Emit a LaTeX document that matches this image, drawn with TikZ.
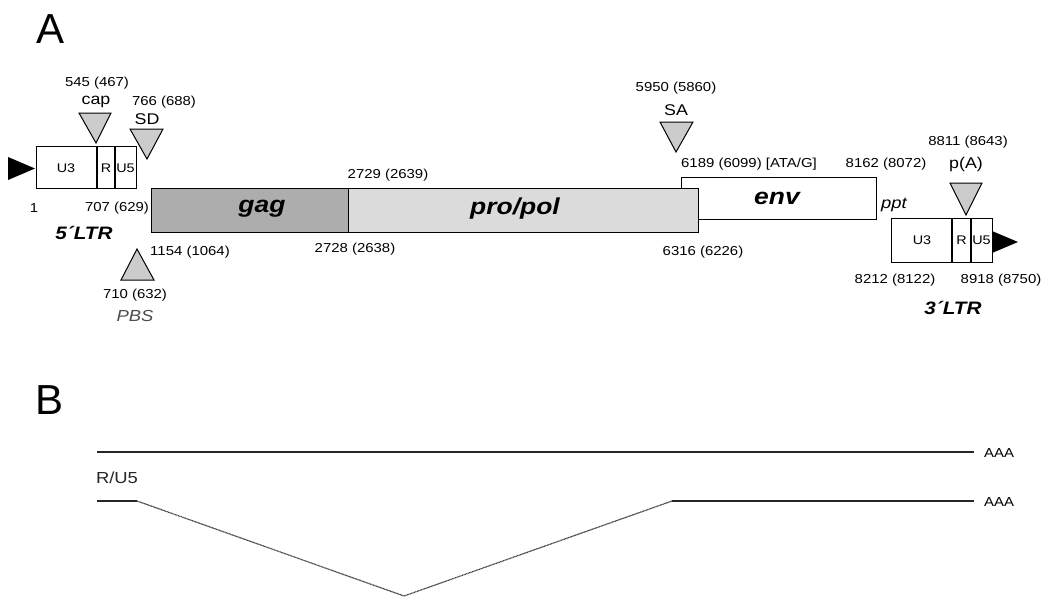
\documentclass[tikz,border=0pt]{standalone}
\usepackage{fontspec}
\setmainfont[FakeStretch=1.15]{Liberation Sans}
\newfontfamily\plainsans{Liberation Sans}
\begin{document}
\begin{tikzpicture}[x=1pt,y=-1pt,
  box/.style={draw=black,line width=1.1pt,inner sep=0pt,anchor=north west},
  num/.style={font=\fontsize{13}{15}\selectfont,inner sep=0pt},
  site/.style={font=\fontsize{15.5}{18}\selectfont,inner sep=0pt},
  gene/.style={font=\fontsize{23}{26}\selectfont\bfseries\itshape,inner sep=0pt},
  seg/.style={font=\fontsize{12.5}{14}\selectfont,inner sep=0pt},
  ltr/.style={font=\fontsize{18}{20}\selectfont\bfseries\itshape,inner sep=0pt},
  tri/.style={draw=black,line width=1pt,fill=gray!40,line join=miter},
  rna/.style={line width=1.5pt,black!85},
  splice/.style={line width=1.2pt,black!75,dash pattern=on 1pt off 0.5pt},
  panel/.style={font=\plainsans\fontsize{42}{44}\selectfont,inner sep=0pt}]
\useasboundingbox (0,0) rectangle (1044,597);
% panel letters
\node[panel] (A) at (51,29) {A};
\node[panel] (B) at (50,400) {B};
% ---------- 5' LTR ----------
\node[box,minimum width=100pt,minimum height=42pt] (ltr5) at (36,146) {};
\draw[line width=1.1pt] (97,146) -- (97,188) (115,146) -- (115,188);
\node[seg] (u3a) at (66,168) {U3};
\node[seg] (ra) at (106,168) {R};
\node[seg] (u5a) at (125.5,168) {U5};
\fill[black] (8,157) -- (35,168.5) -- (8,180) -- cycle;
\node[num] (n1) at (34,208) {1};
\node[num] (n707) at (117,208) {707 (629)};
\node[ltr] (l5) at (84,233) {5´LTR};
% ---------- env (behind) ----------
\node[box,fill=white,minimum width=195pt,minimum height=42pt] (env) at (681,177) {};
\node[gene] (envt) at (777,198) {env};
% ---------- gag / pro/pol ----------
\node[box,fill=gray!64,minimum width=197pt,minimum height=44pt] (gag) at (151,188) {};
\node[gene] (gagt) at (262,209) {gag};
\node[box,fill=gray!28,minimum width=350pt,minimum height=44pt] (pol) at (348,188) {};
\node[gene] (polt) at (515,209) {pro/pol};
% ---------- 3' LTR ----------
\node[box,minimum width=101pt,minimum height=44pt] (ltr3) at (891,218) {};
\draw[line width=1.1pt] (952,218) -- (952,262) (971,218) -- (971,262);
\node[seg] (u3b) at (922,240) {U3};
\node[seg] (rb) at (961.5,240) {R};
\node[seg] (u5b) at (981.5,240) {U5};
\fill[black] (992,231) -- (1018,242) -- (992,253) -- cycle;
% ---------- sites ----------
\draw[tri] (79,113) -- (111,113) -- (96,143) -- cycle;
\node[site] (cap) at (96,102) {cap};
\node[num] (n545) at (97,83) {545 (467)};
\draw[tri] (130,129) -- (163,129) -- (147,159) -- cycle;
\node[site] (sd) at (147,119) {SD};
\node[num] (n766) at (164,102) {766 (688)};
\draw[tri] (137,249) -- (154,280) -- (121,280) -- cycle;
\node[num] (n1154) at (190,252) {1154 (1064)};
\node[num] (n710) at (135,295) {710 (632)};
\node[font=\fontsize{16}{18}\selectfont\itshape,text=black!70,inner sep=0pt] (pbs) at (135,316) {PBS};
\draw[tri] (660,122) -- (693,122) -- (676,152) -- cycle;
\node[site] (sa) at (676,110) {SA};
\node[num] (n5950) at (676,88) {5950 (5860)};
\draw[tri] (950,183) -- (982,183) -- (966,215) -- cycle;
\node[site] (pa) at (966,164) {p(A)};
\node[num] (n8811) at (968,142) {8811 (8643)};
% ---------- coordinates ----------
\node[num] (n2729) at (388,175) {2729 (2639)};
\node[num] (n2728) at (355,249) {2728 (2638)};
\node[num] (n6189) at (749,164) {6189 (6099) [ATA/G]};
\node[num] (n8162) at (886,164) {8162 (8072)};
\node[num] (n6316) at (703,252) {6316 (6226)};
\node[font=\fontsize{16}{18}\selectfont\itshape,inner sep=0pt] (ppt) at (894,205) {ppt};
\node[num] (n8212) at (895,280) {8212 (8122)};
\node[num] (n8918) at (1001,280) {8918 (8750)};
\node[ltr] (l3) at (953,308) {3´LTR};
% ---------- panel B ----------
\coordinate (r1s) at (97,452);
\coordinate (r1e) at (974,452);
\node[num,anchor=west] (aaa1) at (984,453) {AAA};
\draw[rna] (r1s) -- (r1e);
\node[font=\fontsize{16}{18}\selectfont,text=black!85,inner sep=0pt] (ru5) at (117,478) {R/U5};
\coordinate (r2s) at (97,501);
\coordinate (sd2) at (137,501);
\coordinate (low) at (404,596);
\coordinate (sa2) at (672,501);
\coordinate (r2e) at (974,501);
\node[num,anchor=west] (aaa2) at (984,502) {AAA};
\draw[rna] (r2s) -- (sd2);
\draw[splice] (sd2) -- (low) -- (sa2);
\draw[rna] (sa2) -- (r2e);
\end{tikzpicture}
\end{document}
